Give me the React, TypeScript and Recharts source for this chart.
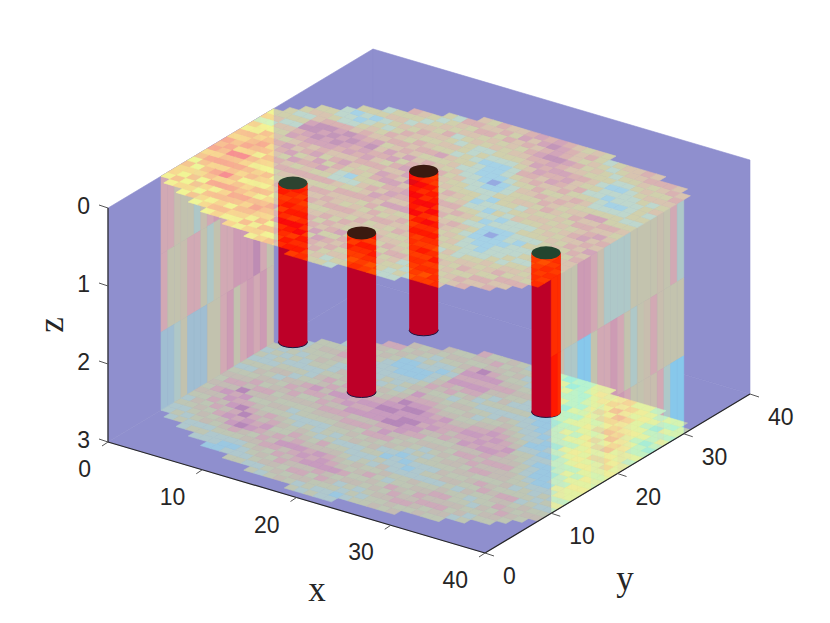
import React from 'react';
import { ComposedChart, Scatter, XAxis, YAxis } from 'recharts';

const WIDTH = 830;
const HEIGHT = 623;

const xTicks = [0, 10, 20, 30, 40];
const yTicks = [0, 10, 20, 30, 40];
const zTicks = [0, 1, 2, 3];

// one string per x column, one digit per y cell, '.' = no data
const topSlice = [
  '........34453546564534243',
  '.......3534356456545332433',
  '.......43545465746545342323',
  '......3453564657456543423243',
  '......5346475645354536576443',
  '.....345364545345456456775322',
  '.....4354653543453645676752213',
  '....35456543453546354667652123',
  '....453564534345354656767432132',
  '....345453545345456345676543243',
  '...43456543543453635465654323435',
  '...35345643454353456456764534234',
  '...43545354345352234565435453423',
  '..3453645435453421435456453454323',
  '..4354635434545323345364545343432',
  '..5345645435445343564536454345345',
  '..45364535453454536546543534324354',
  '..54536453454356456465453634234543',
  '.354563545343545654754543423343545',
  '.435453634545364565643534332234354',
  '.343545354353464564534342323243534',
  '.324353453454365645343422212334465',
  '.234345354345364654533221112343546',
  '..32345343543546453432211112345465',
  '..43453543454635454332101223456576',
  '..32435434354543532122112354657665',
  '..23345343453453432213223456567554',
  '..22324353434342321233343545656443',
  '..23234342343232123234345465645354',
  '...2343534322111212324353456543433',
  '...324343222110122434354354453432',
  '...343434321111122343545435343323',
  '...434354322212232343434532323234',
  '....45343432221233434343432212344',
  '....54534323223234343543221212345',
  '.....4535432323343435463212223454',
  '.....54534323324345454632122343 5'.replace(' ', ''),
  '......45434323435465453322234345',
  '.......5343434354546453233324354',
  '........4343445464543432 3243454'.replace(' ', ''),
];

const bottomSlice = [
  '........22323434343232323',
  '.......2323434545432322323',
  '.......32343546454343232322',
  '......2234354657454343232333',
  '......3243546564534243223343',
  '.....232346575345434232343432',
  '.....2234657543434543223345432',
  '....12235765434345453432234354',
  '....112346545343435645342234345',
  '....212435654323435453432123435',
  '...32234543432334546453432223434',
  '...32345453322345456534322211343',
  '...23435645432345465543232111234',
  '..3243546543223456565343221123234',
  '..2345456432334546565432321122343',
  '..3434565453234546676543432212343',
  '..43546564323435466767564543234345',
  '..34546654324354576676543456565343',
  '.324356543223456577676543546567453',
  '.233546432234354667665432356565434',
  '.323435343232434565654343456564343',
  '.223243432312343546564343234543432',
  '.212343534221234345543432324543232',
  '..23234342212324354543232343432342',
  '..32343232123234345654322323432322',
  '..33435332223343465654342322343231',
  '..43454342323435456565432323232312',
  '..34543432343445465654322122232222',
  '..43545432434354565543221112122233',
  '...3454543434545456432211122323343',
  '...435453234354544321212223234343',
  '...345433435344543321122323345454',
  '...343432354344332212123234354645',
  '....24323343433221212323435456453',
  '....32343453232111223434546545343',
  '.....3435453321112234345465433432',
  '.....345432322122324354654343232',
  '......34343232323234454343232123',
  '.......3432323343434543322122323',
  '........43232334343433232123233',
];

// vertical slice on x=0: first y cell, then one string per depth layer
const backWallFirstY = 8;
const backWallLayers = [
  '55433245665456754',
  '53345532355666753',
  '11231113356356564',
];

// vertical slice on x=40
const frontWallFirstY = 10;
const frontWallLayers = [
  '44336654222233334352',
  '54220035565323454333',
  '55443300346533445200',
];

const wellX = [10.2, 21, 18.1, 36.5];
const wellY = [13.4, 8.4, 21.9, 14.2];
const wellDepth = [2.04, 2.04, 2.04, 2.04];
const wellCapColors = ['#2c4330', '#3a1a10', '#3a1a10', '#23452f'];

const BLUE = '#8f8fce';
const CRIMSON = '#bd0028';
const INK = '#262626';

const topColors = ['#96aae1', '#a5d2e6', '#bed7cd', '#d0d0ac', '#d8c4b0', '#d9b2b2', '#d2a5b9', '#c396b9'];
const bottomColors = ['#8caae1', '#9bc8e1', '#afc8cd', '#bec6b4', '#c3bcb4', '#cdaab9', '#c89bbe', '#b687b9'];
const wallColors = ['#87c8eb', '#a0bed2', '#afc8c8', '#c3c3af', '#c8beaf', '#d2aab4', '#cd9bb4', '#be8cb4'];
const hotTopColors = ['#78ffff', '#b9ffd7', '#d7ffbe', '#faff91', '#ffe18c', '#ffc88c', '#ffaf8c', '#ff8c8c'];
const hotBottomColors = ['#82f0ff', '#a0fae1', '#c3ffc8', '#ebffa0', '#fafa96', '#ffe191', '#ffc891', '#ffb496'];
const redColors = ['#ff7814', '#ff6400', '#ff5000', '#ff3c00', '#ff2d00', '#ff1900', '#fa0a0a', '#e60a14'];

const project = (x: number, y: number, z: number) => [
  108 + 9.425 * x + 6.625 * y,
  208 + 2.775 * x - 3.975 * y + 78 * z,
];

const quad = (corners: number[][], fill: string, extra = {}) => {
  const pts = corners.map((c) => project(c[0], c[1], c[2]));
  const sx = pts.reduce((s, p) => s + p[0], 0) / pts.length;
  const sy = pts.reduce((s, p) => s + p[1], 0) / pts.length;
  return { sx, sy, offsets: pts.map((p) => [p[0] - sx, p[1] - sy]), fill, ...extra };
};

const sliceCells = (grid: string[], z: number, colors: string[], extra = {}) => {
  const rows: any[] = [];
  grid.forEach((col, x) => {
    col.split('').forEach((ch, y) => {
      if (ch === '.') return;
      rows.push(quad([[x, y, z], [x + 1, y, z], [x + 1, y + 1, z], [x, y + 1, z]], colors[Number(ch)], extra));
    });
  });
  return rows;
};

const wallCells = (layers: string[], x: number, firstY: number, colors: string[], extra = {}) => {
  const rows: any[] = [];
  layers.forEach((layer, z) => {
    layer.split('').forEach((ch, i) => {
      const y = firstY + i;
      rows.push(quad([[x, y, z], [x, y + 1, z], [x, y + 1, z + 1], [x, y, z + 1]], colors[Number(ch)], extra));
    });
  });
  return rows;
};

const backFaces = [
  quad([[0, 0, 0], [0, 40, 0], [0, 40, 3], [0, 0, 3]], BLUE),
  quad([[0, 40, 0], [40, 40, 0], [40, 40, 3], [0, 40, 3]], BLUE),
  quad([[0, 0, 3], [40, 0, 3], [40, 40, 3], [0, 40, 3]], BLUE),
];

const wells = wellX.map((x, i) => {
  const [sx, sy] = project(x, wellY[i], 0);
  const [, bottom] = project(x, wellY[i], wellDepth[i]);
  return { sx, sy, length: bottom - sy, cap: wellCapColors[i] };
});

const WELL_R = 14.5;
const WELL_RY = 5.5;

const polyPoints = (corners: number[][]) =>
  corners.map((c) => project(c[0], c[1], c[2]).join(',')).join(' ');

const Cell = (props: any) => {
  const { cx, cy, payload } = props;
  const { offsets, fill, clip, opacity } = payload;
  const points = offsets.map((o: number[]) => `${cx + o[0]},${cy + o[1]}`).join(' ');
  return (
    <polygon
      points={points}
      fill={fill}
      fillOpacity={opacity ?? 1}
      stroke={opacity ? 'none' : fill}
      strokeWidth={0.6}
      clipPath={clip ? `url(#${clip})` : undefined}
    />
  );
};

const WellBody = (props: any) => {
  const { cx, cy, payload } = props;
  return (
    <g>
      <ellipse cx={cx} cy={cy + payload.length} rx={WELL_R} ry={WELL_RY} fill={CRIMSON} stroke="#1f1440" strokeWidth={1} />
      <rect x={cx - WELL_R} y={cy} width={WELL_R * 2} height={payload.length} fill={CRIMSON} />
    </g>
  );
};

const WellCap = (props: any) => {
  const { cx, cy, payload } = props;
  return <ellipse cx={cx} cy={cy} rx={WELL_R} ry={WELL_RY + 1} fill={payload.cap} />;
};

const tickShape = (dx: number, dy: number, anchor: string, tx: number, ty: number) => (props: any) => {
  const { cx, cy, payload } = props;
  return (
    <g>
      <line x1={cx} y1={cy} x2={cx + tx} y2={cy + ty} stroke="#555" strokeWidth={1} />
      <text x={cx + dx} y={cy + dy} textAnchor={anchor} fontFamily="Liberation Sans" fontSize={23} fill={INK}>
        {payload.label}
      </text>
    </g>
  );
};

const axisPoints = (ticks: number[], at: (t: number) => number[]) =>
  ticks.map((t) => {
    const [sx, sy] = project(at(t)[0], at(t)[1], at(t)[2]);
    return { sx, sy, label: t };
  });

const xAxisPoints = axisPoints(xTicks, (t) => [t, 0, 3]);
const yAxisPoints = axisPoints(yTicks, (t) => [40, t, 3]);
const zAxisPoints = axisPoints(zTicks, (t) => [0, 0, t]);

const axisLine = { stroke: INK, strokeWidth: 1.2 };

export default function App() {
  const layer = (data: any[], key: string) => (
    <Scatter key={key} data={data} shape={Cell} isAnimationActive={false} />
  );
  return (
    <div style={{ position: 'absolute', left: 0, top: 0, width: WIDTH, height: HEIGHT, background: '#fff' }}>
      <ComposedChart width={WIDTH} height={HEIGHT} margin={{ top: 0, right: 0, bottom: 0, left: 0 }}>
        <defs>
          <clipPath id="backWall">
            <polygon points={polyPoints([[0, 8, 0], [0, 25, 0], [0, 25, 3], [0, 8, 3]])} />
          </clipPath>
          <clipPath id="frontWall">
            <polygon points={polyPoints([[40, 10, 0], [40, 30, 0], [40, 30, 3], [40, 10, 3]])} />
          </clipPath>
          <clipPath id="wellBodies">
            {wells.map((w, i) => (
              <React.Fragment key={i}>
                <rect x={w.sx - WELL_R} y={w.sy} width={WELL_R * 2} height={w.length} />
                <ellipse cx={w.sx} cy={w.sy + w.length} rx={WELL_R} ry={WELL_RY} />
              </React.Fragment>
            ))}
          </clipPath>
        </defs>
        <XAxis type="number" dataKey="sx" domain={[0, WIDTH]} hide allowDataOverflow />
        <YAxis type="number" dataKey="sy" domain={[0, HEIGHT]} reversed hide allowDataOverflow />

        {layer(backFaces, 'faces')}
        {layer(wallCells(backWallLayers, 0, backWallFirstY, wallColors), 'backWall')}
        {layer(sliceCells(bottomSlice, 3, bottomColors), 'bottom')}
        {layer(wallCells(frontWallLayers, 40, frontWallFirstY, wallColors), 'frontWall')}
        {layer(sliceCells(bottomSlice, 3, hotBottomColors, { clip: 'frontWall' }), 'bottomHot')}
        {layer(wallCells(frontWallLayers, 40, frontWallFirstY, wallColors, { opacity: 0.22 }), 'frontWallTint')}
        {layer(sliceCells(topSlice, 0, topColors), 'top')}
        {layer(sliceCells(topSlice, 0, hotTopColors, { clip: 'backWall' }), 'topHot')}
        {layer(wallCells(backWallLayers, 0, backWallFirstY, wallColors, { opacity: 0.16, clip: 'backWall' }), 'backWallTint')}

        <Scatter data={wells} shape={WellBody} isAnimationActive={false} />
        {layer(sliceCells(topSlice, 0, redColors, { clip: 'wellBodies' }), 'topRed')}
        {layer(wallCells(frontWallLayers, 40, frontWallFirstY, redColors, { clip: 'wellBodies' }), 'frontRed')}
        <Scatter data={wells} shape={WellCap} isAnimationActive={false} />

        <Scatter data={xAxisPoints} line={axisLine} shape={tickShape(-17, 35, 'end', -6, 4)} isAnimationActive={false} />
        <Scatter data={yAxisPoints} line={axisLine} shape={tickShape(18, 31, 'start', 9, 3)} isAnimationActive={false} />
        <Scatter data={zAxisPoints} line={axisLine} shape={tickShape(-18, 6, 'end', -9, -3)} isAnimationActive={false} />

        <text x={317} y={601} textAnchor="middle" fontFamily="Liberation Serif" fontSize={35} fill={INK}>x</text>
        <text x={625} y={590} textAnchor="middle" fontFamily="Liberation Serif" fontSize={35} fill={INK}>y</text>
        <text x={63} y={325} textAnchor="middle" fontFamily="Liberation Serif" fontSize={35} fill={INK} transform="rotate(-90 63 325)">z</text>
      </ComposedChart>
    </div>
  );
}
